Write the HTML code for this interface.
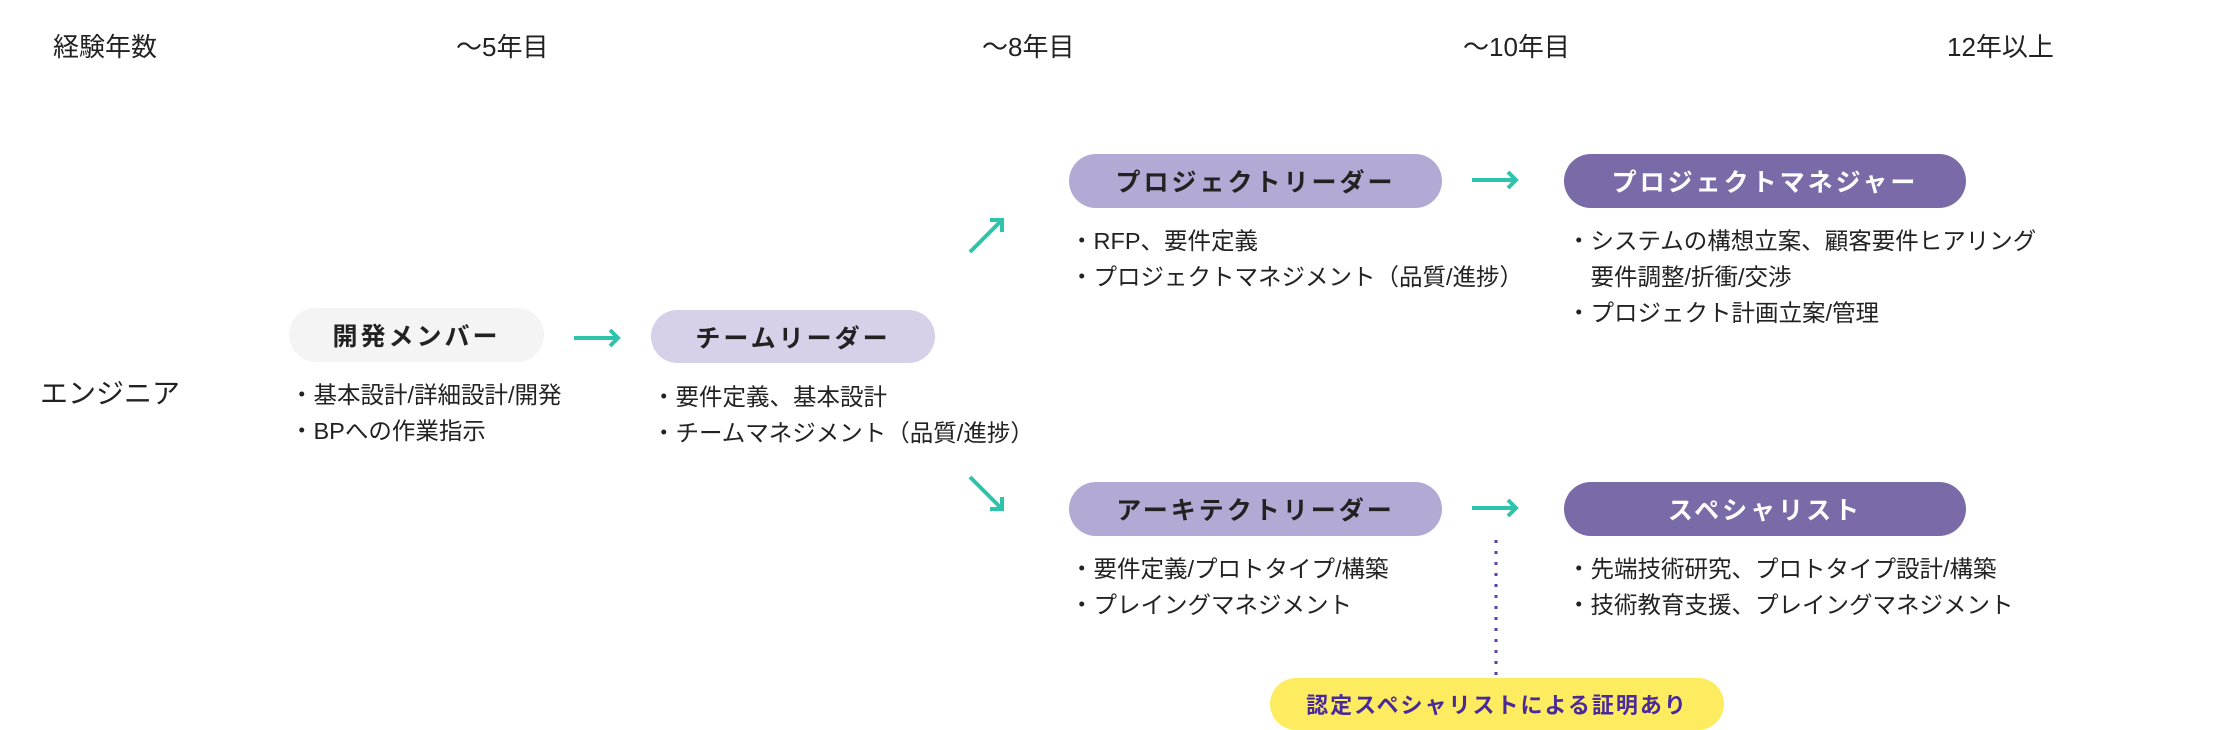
<!DOCTYPE html>
<html><head><meta charset="utf-8"><style>
body{margin:0;width:2234px;height:730px;background:#fff;position:relative;overflow:hidden;font-family:"Liberation Sans","Noto Sans CJK JP",sans-serif;color:#222}
.t{position:absolute;white-space:nowrap}
.h{font-size:26px;top:30px;line-height:34px}
.pill{position:absolute;border-radius:28px;display:flex;align-items:center;justify-content:center;font-weight:bold;font-size:25px;letter-spacing:3px}
.b{position:absolute;font-size:23.5px;line-height:36px;white-space:nowrap}
</style></head><body>
<div class="t h" style="left:53px">経験年数</div>
<div class="t h" style="left:456px">～5年目</div>
<div class="t h" style="left:982px">～8年目</div>
<div class="t h" style="left:1463px">～10年目</div>
<div class="t h" style="left:1947px">12年以上</div>
<div class="t" style="left:40px;top:377px;font-size:28px;line-height:34px">エンジニア</div>

<div class="pill" style="left:289px;top:308px;width:255px;height:54px;background:#f4f4f4">開発メンバー</div>
<div class="pill" style="left:651px;top:310px;width:284px;height:53px;background:#d6d0e8">チームリーダー</div>
<div class="pill" style="left:1069px;top:154px;width:373px;height:54px;background:#b2aad4">プロジェクトリーダー</div>
<div class="pill" style="left:1564px;top:154px;width:402px;height:54px;background:#7b6aa8;color:#fff">プロジェクトマネジャー</div>
<div class="pill" style="left:1069px;top:482px;width:373px;height:54px;background:#b2aad4">アーキテクトリーダー</div>
<div class="pill" style="left:1564px;top:482px;width:402px;height:54px;background:#7b6aa8;color:#fff">スペシャリスト</div>
<div class="pill" style="left:1270px;top:678px;width:454px;height:52px;background:#fdec5f;color:#4a2a9a;font-size:22px;letter-spacing:2px">認定スペシャリストによる証明あり</div>

<div class="b" style="left:290px;top:377px">・基本設計/詳細設計/開発<br>・BPへの作業指示</div>
<div class="b" style="left:652px;top:379px">・要件定義、基本設計<br>・チームマネジメント（品質/進捗）</div>
<div class="b" style="left:1070px;top:223px">・RFP、要件定義<br>・プロジェクトマネジメント（品質/進捗）</div>
<div class="b" style="left:1567px;top:223px">・システムの構想立案、顧客要件ヒアリング<br>　要件調整/折衝/交渉<br>・プロジェクト計画立案/管理</div>
<div class="b" style="left:1070px;top:551px">・要件定義/プロトタイプ/構築<br>・プレイングマネジメント</div>
<div class="b" style="left:1567px;top:551px">・先端技術研究、プロトタイプ設計/構築<br>・技術教育支援、プレイングマネジメント</div>

<svg width="2234" height="730" style="position:absolute;left:0;top:0" fill="none" stroke="#2ec4ab" stroke-width="4">
<path d="M574 338H618M610 330L618 338L610 346"/>
<path d="M1472 180H1516M1508 172L1516 180L1508 188"/>
<path d="M1472 508H1516M1508 500L1516 508L1508 516"/>
<path d="M970 252L1002 220M990 220H1002V232"/>
<path d="M970 477L1002 509M990 509H1002V497"/>
<path d="M1496 540V678" stroke="#5b3fa8" stroke-width="3" stroke-dasharray="3 8"/>
</svg>
</body></html>
